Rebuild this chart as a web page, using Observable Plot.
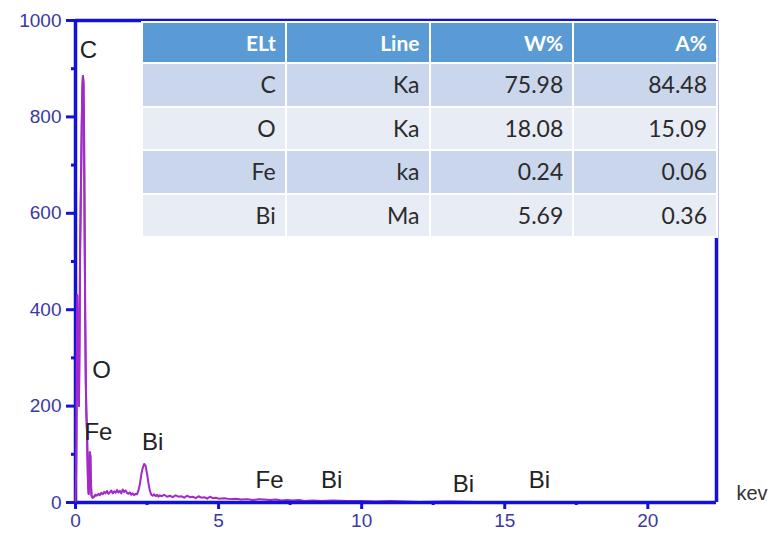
<!DOCTYPE html>
<html>
<head>
<meta charset="utf-8">
<script src="https://cdn.jsdelivr.net/npm/d3@7"></script>
<script src="https://cdn.jsdelivr.net/npm/@observablehq/plot@0.6"></script>
<style>
  html, body { margin: 0; padding: 0; background: #fff; }
  #wrap { position: relative; width: 774px; height: 538px; overflow: hidden; }
  #tbl { position: absolute; left: 141px; top: 21px; width: 577px; border-collapse: collapse; table-layout: fixed;
         font-family: Lato, "Open Sans", sans-serif; font-size: 23px; color: #2b2b2b; }
  #tbl td, #tbl th { border: 2px solid #fff; text-align: right; padding: 0 9px 0 0; height: 41.5px; line-height: 1; }
  #tbl th { background: #5b9bd5; color: #fff; font-weight: 700; font-size: 21px; height: 39px; }
  #tbl tr.odd td { background: #c9d6ec; }
  #tbl tr.even td { background: #e8ecf5; }
</style>
</head>
<body>
<div id="wrap"></div>
<script>
// ---- spectrum (keV, counts) ----
const energy = [0.00,0.02,0.04,0.06,0.08,0.10,0.12,0.14,0.16,0.18,0.20,0.22,0.24,0.26,0.28,0.30,0.32,0.34,0.36,0.38,0.40,0.42,0.44,0.46,0.48,0.50,0.52,0.54,0.56,0.60,
  0.65,0.70,0.75,0.80,0.85,0.90,0.95,1.00,1.05,1.10,1.15,1.20,1.25,1.30,1.35,1.40,1.45,1.50,1.55,1.60,1.65,1.70,1.75,1.80,1.85,1.90,1.95,2.00,2.05,2.10,2.15,
  2.20,2.25,2.30,2.35,2.40,2.45,2.50,2.55,2.60,2.65,2.70,2.75,2.80,2.85,2.90,2.95,3.0,3.1,3.2,3.3,3.4,3.5,3.6,3.7,3.8,3.9,4.0,4.1,4.2,4.3,4.4,4.5,4.6,4.7,4.8,4.9,
  5.0,5.2,5.4,5.6,5.8,6.0,6.2,6.4,6.6,6.8,7.0,7.2,7.4,7.6,7.8,8.0,8.3,8.6,9.0,9.5,10.0,10.5,11.0,11.5,12,13,14,15,16,17,18,19,20,21,22];
const counts = [0,60,250,430,360,300,200,330,520,610,700,790,860,885,870,760,560,380,250,185,150,90,35,18,40,104,95,40,14,10,
  12,16,14,18,15,20,17,22,19,24,18,21,25,19,23,20,26,21,24,19,27,22,25,20,18,21,16,19,15,18,17,
  25,38,58,72,80,76,60,40,24,16,14,17,13,16,12,15,13,16,12,14,11,15,12,13,10,14,11,12,9,13,10,11,8,12,9,10,
  8,9,7,8,6,7,5,7,6,5,6,4,5,4,5,3,4,3,4,3,3,2,3,2,1,2,1,1,1,1,1,1,1,0,0];

// ---- peak labels ----
const peakNames = ["C","O","Fe","Bi","Fe","Bi","Bi","Bi"];
const peakX = [0.45,0.91,0.80,2.70,6.78,8.95,13.56,16.21];
const peakY = [938,274,145,124,45,45,37,45];

// ---- axis ticks ----
const yMajor = [0,200,400,600,800,1000];
const yMinor = [100,300,500,700,900];
const xMajor = [0,5,10,15,20];
const xMinor = [2.5,7.5,12.5,17.5];
const xMax = 22.4;
const xUnit = "kev";

// ---- composition table ----
const tableHeader = ["ELt","Line","W%","A%"];
const elements = ["C","O","Fe","Bi"];
const lines = ["Ka","Ka","ka","Ma"];
const weightPct = ["75.98","18.08","0.24","5.69"];
const atomicPct = ["84.48","15.09","0.06","0.36"];

const spectrum = energy.map((e, i) => ({e, c: counts[i]}));
const labels = peakNames.map((n, i) => ({n, x: peakX[i], y: peakY[i]}));

const blue = "#1212d6";
const tickText = "#3a3aa2";
const purple = "#a12ac8";

const chart = Plot.plot({
  width: 774, height: 538,
  marginLeft: 75, marginRight: 58, marginTop: 20, marginBottom: 36,
  x: {domain: [0, xMax]},
  y: {domain: [0, 1000]},
  style: {fontFamily: "'Liberation Sans', Arial, sans-serif", fontSize: "19px", background: "#fff"},
  marks: [
    Plot.ruleY([1000], {stroke: blue, strokeWidth: 3.5}),
    Plot.ruleX([xMax], {stroke: blue, strokeWidth: 3.5}),
    Plot.line(spectrum, {x: "e", y: "c", stroke: purple, strokeWidth: 2}),
    Plot.ruleX([0], {stroke: blue, strokeWidth: 3.5}),
    Plot.ruleY([0], {stroke: blue, strokeWidth: 3.5}),
    Plot.line(spectrum.filter(d => d.e <= 0.7), {x: "e", y: "c", stroke: purple, strokeWidth: 2}),
    Plot.axisY({ticks: yMajor, tickSize: 9, tickPadding: 5, tickFormat: d => String(d), stroke: blue, strokeWidth: 3, fill: tickText, fontSize: 19, label: null}),
    Plot.axisY({ticks: yMinor, tickSize: 4, tickFormat: () => "", stroke: blue, strokeWidth: 3, label: null}),
    Plot.axisX({ticks: xMajor, tickSize: 7, tickPadding: 4, tickFormat: d => String(d), stroke: blue, strokeWidth: 3, fill: tickText, fontSize: 19, label: null}),
    Plot.axisX({ticks: xMinor, tickSize: 3, tickFormat: () => "", stroke: blue, strokeWidth: 3, label: null}),
    Plot.text(labels, {x: "x", y: "y", text: "n", fill: "#222", fontSize: 24, textAnchor: "middle"}),
    Plot.text([xUnit], {x: xMax, y: 0, text: d => d, dx: 20, dy: -9, textAnchor: "start", fill: "#333", fontSize: 20})
  ]
});

const wrap = document.getElementById("wrap");
wrap.appendChild(chart);

// table overlay
const tbl = document.createElement("table");
tbl.id = "tbl";
const head = document.createElement("tr");
tableHeader.forEach(h => { const th = document.createElement("th"); th.textContent = h; head.appendChild(th); });
tbl.appendChild(head);
elements.forEach((el, i) => {
  const tr = document.createElement("tr");
  tr.className = i % 2 === 0 ? "odd" : "even";
  [el, lines[i], weightPct[i], atomicPct[i]].forEach(v => {
    const td = document.createElement("td"); td.textContent = v; tr.appendChild(td);
  });
  tbl.appendChild(tr);
});
wrap.appendChild(tbl);
</script>
</body>
</html>
